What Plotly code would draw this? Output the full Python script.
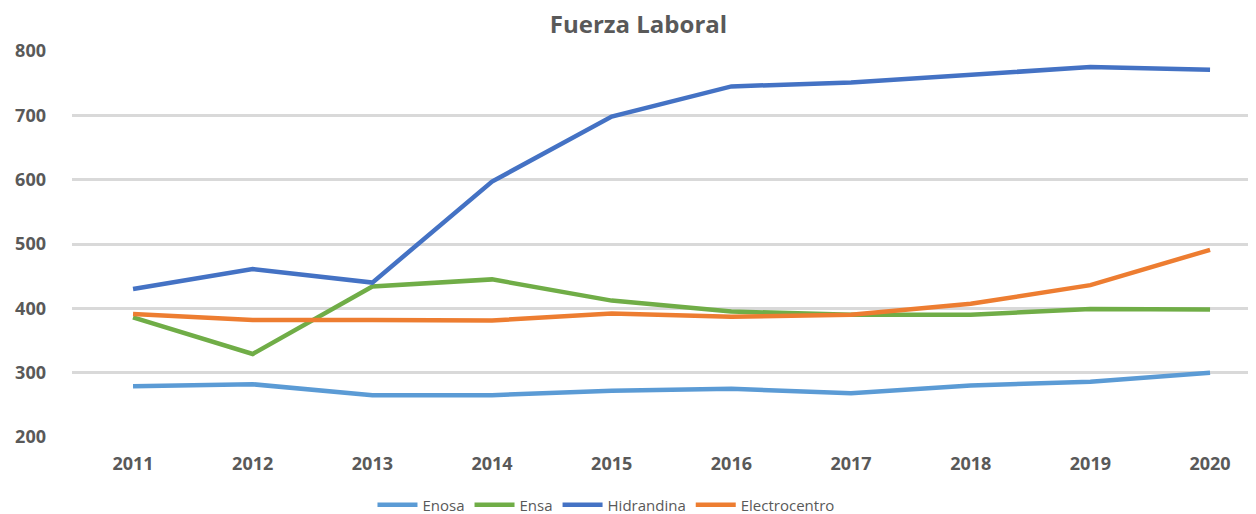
import plotly.graph_objects as go

years = [2011, 2012, 2013, 2014, 2015, 2016, 2017, 2018, 2019, 2020]
enosa = [279, 282, 265, 265, 272, 275, 268, 280, 286, 300]
ensa = [386, 329, 434, 445, 412, 395, 390, 390, 399, 398]
hidrandina = [430, 461, 440, 597, 698, 745, 751, 763, 775, 771]
electrocentro = [391, 382, 382, 381, 392, 387, 390, 407, 436, 491]
y_ticks = [200, 300, 400, 500, 600, 700, 800]

series = [
    ("Enosa", enosa, "#5B9BD5"),
    ("Ensa", ensa, "#70AD47"),
    ("Hidrandina", hidrandina, "#4472C4"),
    ("Electrocentro", electrocentro, "#ED7D31"),
]

fig = go.Figure()
for name, vals, color in series:
    fig.add_trace(go.Scatter(
        x=years, y=vals, name=name, mode="lines",
        line=dict(color=color, width=4.5),
    ))

# page body has an 8px margin; compensate so the picture lands at the reference positions
fig.update_layout(
    width=1248, height=514,
    margin=dict(l=64, r=0, t=43, b=85),
    paper_bgcolor="white", plot_bgcolor="white",
    font=dict(family="Open Sans", color="#595959"),
    title=dict(text="<b>Fuerza Laboral</b>", x=0.5052, xanchor="center",
               y=0.968, yanchor="middle",
               font=dict(family="Open Sans", size=24, color="#595959")),
    showlegend=True,
    legend=dict(orientation="h", x=0.451, xanchor="center", y=-0.176, yanchor="middle",
                font=dict(family="Open Sans", size=15, color="#595959"),
                itemwidth=40, tracegroupgap=0),
)
fig.update_xaxes(
    range=[2010.49, 2020.384], tickvals=years,
    ticktext=[f"<b>{y}</b>" for y in years],
    tickfont=dict(family="Open Sans", size=18, color="#595959"),
    showgrid=False, zeroline=False, showline=False, ticks="",
    ticklabelstandoff=14,
)
fig.update_yaxes(
    range=[200, 800], tickvals=y_ticks,
    ticktext=[f"<b>{v}</b>" for v in y_ticks],
    tickfont=dict(family="Open Sans", size=18, color="#595959"),
    showgrid=True, gridcolor="#D9D9D9", gridwidth=3,
    zeroline=False, showline=False, ticks="",
    ticklabelstandoff=25,
)
fig.write_html("out.html")
